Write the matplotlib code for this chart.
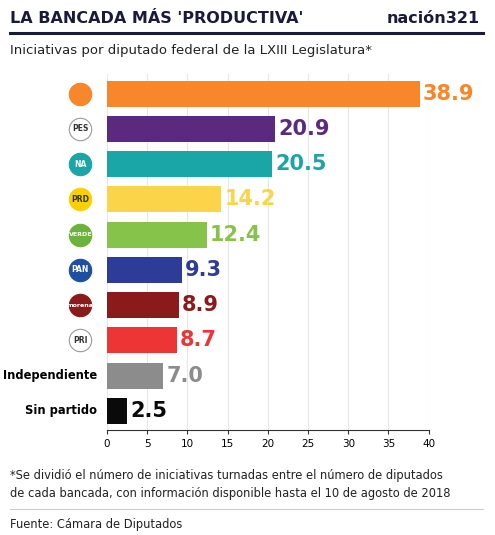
import matplotlib
matplotlib.use("Agg")
import matplotlib.pyplot as plt

parties = ["MC", "PES", "NA", "PRD", "PVEM", "PAN", "Morena", "PRI", "Independiente", "Sin partido"]
values = [38.9, 20.9, 20.5, 14.2, 12.4, 9.3, 8.9, 8.7, 7.0, 2.5]
colors = ["#f7872a", "#5b2a7e", "#1aa6a6", "#fcd449", "#86c34a", "#2d3d97", "#8b1a1a", "#ed3535", "#8c8c8c", "#0a0a0a"]
logo_colors = ["#f7872a", "#ffffff", "#1aa6a6", "#fcd000", "#6bb33a", "#1f4fa0", "#8b1a1a", "#ffffff", None, None]
logo_text = ["", "PES", "NA", "PRD", "VERDE", "PAN", "morena", "PRI", "", ""]
ticks = [0, 5, 10, 15, 20, 25, 30, 35, 40]

fig = plt.figure(figsize=(4.95, 5.35), dpi=100)
fig.patch.set_facecolor("white")
ax = fig.add_axes([0.216, 0.196, 0.65, 0.665])
y = list(range(len(parties)))[::-1]
ax.barh(y, values, color=colors, height=0.74, zorder=2)
for yi, v, c in zip(y, values, colors):
    ax.text(v + 0.4, yi, f"{v:.1f}", va="center", ha="left", color=c,
            fontsize=15, fontweight="heavy", family="DejaVu Sans")
ax.set_xlim(0, 40)
ax.set_ylim(-0.55, len(parties) - 0.45)
ax.set_xticks(ticks)
ax.set_xticklabels([str(t) for t in ticks], fontsize=7.5)
ax.set_yticks([])
ax.grid(axis="x", color="#e6e6e6", lw=0.8, zorder=0)
for s in ["top", "right", "left"]:
    ax.spines[s].set_visible(False)
ax.spines["bottom"].set_color("#333333")
ax.tick_params(axis="x", length=3, color="#333333")

for yi, lc, lt, p in zip(y, logo_colors, logo_text, parties):
    if lc is None:
        ax.text(-1.2, yi, p, ha="right", va="center", fontsize=8.3, fontweight="bold")
    else:
        ax.scatter([-3.3], [yi], s=260, color=lc, edgecolors="#999999" if lc == "#ffffff" else lc,
                   linewidths=0.8, clip_on=False, zorder=3)
        tc = "#333333" if lc in ("#ffffff", "#fcd000") else "white"
        ax.text(-3.3, yi, lt, ha="center", va="center", fontsize=4.5 if len(lt) > 3 else 5.5,
                fontweight="bold", color=tc, zorder=4, clip_on=False)

fig.text(0.02, 0.965, "LA BANCADA MÁS 'PRODUCTIVA'", fontsize=11.5, fontweight="bold", color="#1a1a3a", va="center")
fig.text(0.97, 0.965, "nación321", fontsize=11.5, fontweight="bold", color="#1a1a3a", va="center", ha="right")
fig.add_artist(plt.Line2D([0.02, 0.975], [0.938, 0.938], color="#1a1a3a", lw=2.2))
fig.text(0.02, 0.905, "Iniciativas por diputado federal de la LXIII Legislatura*", fontsize=9.5, color="#222222", va="center")
fig.text(0.02, 0.095, "*Se dividió el número de iniciativas turnadas entre el número de diputados\nde cada bancada, con información disponible hasta el 10 de agosto de 2018",
         fontsize=8.3, color="#222222", va="center", linespacing=1.5)
fig.add_artist(plt.Line2D([0.02, 0.975], [0.048, 0.048], color="#cccccc", lw=0.8))
fig.text(0.02, 0.02, "Fuente: Cámara de Diputados", fontsize=8.3, color="#222222", va="center")

fig.savefig("out.png", dpi=100)
